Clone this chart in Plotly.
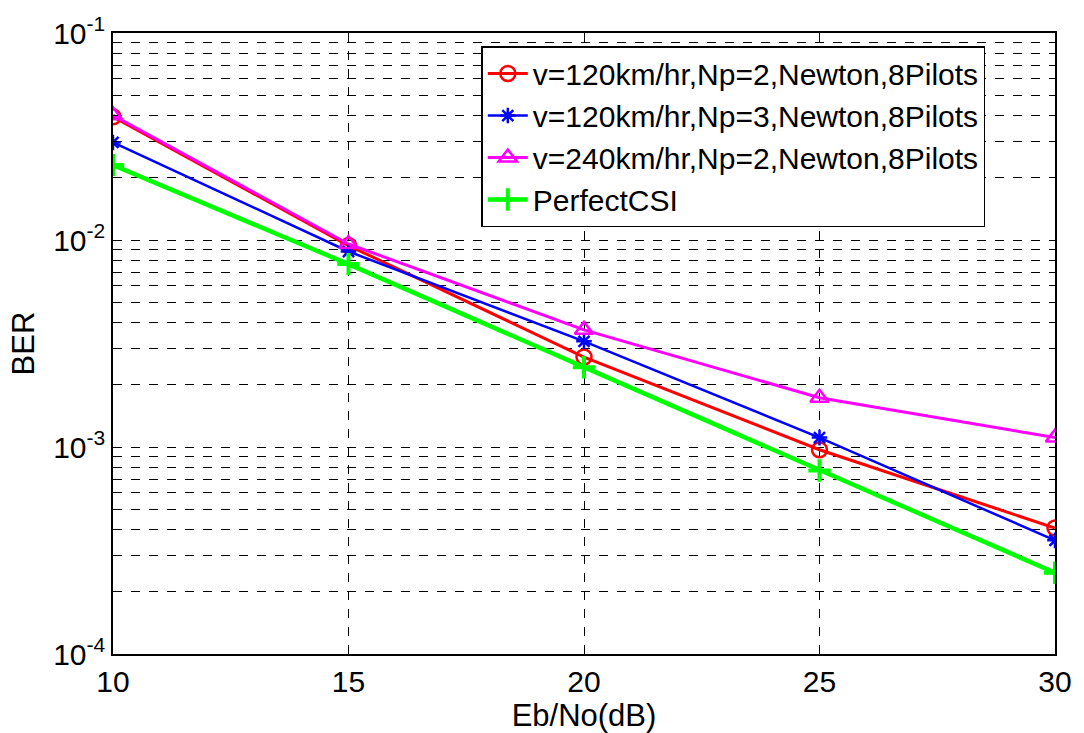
import plotly.graph_objects as go

snr = [10, 15, 20, 25, 30]
ber_v120_np2 = [0.0394, 0.0094, 0.00272, 0.00097, 0.000406]
ber_v120_np3 = [0.0296, 0.0088, 0.00324, 0.00111, 0.000354]
ber_v240_np2 = [0.0400, 0.00957, 0.00368, 0.00173, 0.00111]
ber_perfect = [0.0230, 0.00765, 0.00243, 0.00077, 0.000247]

names = ["v=120km/hr,Np=2,Newton,8Pilots",
         "v=120km/hr,Np=3,Newton,8Pilots",
         "v=240km/hr,Np=2,Newton,8Pilots",
         "PerfectCSI"]

x_ticks = [10, 15, 20, 25, 30]
decades = [-4, -3, -2, -1]

fig = go.Figure()
fig.add_trace(go.Scatter(x=snr, y=ber_v120_np2, name=names[0], mode="lines+markers",
                         line=dict(color="#ff0000", width=3),
                         marker=dict(symbol="circle-open", size=15, color="#ff0000", line=dict(width=2.5))))
fig.add_trace(go.Scatter(x=snr, y=ber_v120_np3, name=names[1], mode="lines+markers",
                         line=dict(color="#0000ff", width=2.5),
                         marker=dict(symbol="asterisk-open", size=13, color="#0000ff", line=dict(width=2.5))))
fig.add_trace(go.Scatter(x=snr, y=ber_v240_np2, name=names[2], mode="lines+markers",
                         line=dict(color="#ff00ff", width=3),
                         marker=dict(symbol="triangle-up-open", size=16, color="#ff00ff", line=dict(width=2.5))))
fig.add_trace(go.Scatter(x=snr, y=ber_perfect, name=names[3], mode="lines+markers",
                         line=dict(color="#00ff00", width=4.5),
                         marker=dict(symbol="cross-thin-open", size=16, color="#00ff00", line=dict(width=4))))

tickvals = []
ticktext = []
for d in decades:
    for m in range(1, 10):
        if d == -1 and m > 1:
            break
        tickvals.append(m * 10 ** d)
        ticktext.append(f"10<sup>{d}</sup>" if m == 1 else " ")

fig.update_layout(
    width=1084, height=733,
    margin=dict(l=113, r=25, t=32, b=79),
    paper_bgcolor="white", plot_bgcolor="white",
    font=dict(family="Liberation Sans, Arial, sans-serif", color="black"),
    showlegend=True,
    legend=dict(x=0.391, y=0.979, xanchor="left", yanchor="top",
                bgcolor="white", bordercolor="black", borderwidth=1.5,
                font=dict(size=30), tracegroupgap=0, itemwidth=40,
                entrywidth=545, entrywidthmode="pixels"),
    xaxis=dict(range=[10, 30], tickvals=x_ticks, ticktext=[str(v) for v in x_ticks],
               showgrid=True, gridcolor="black", griddash="dash", gridwidth=1,
               showline=True, linecolor="black", linewidth=1.5, mirror="ticks",
               ticks="inside", ticklen=6, tickcolor="black",
               tickfont=dict(size=30), zeroline=False,
               title=dict(text="Eb/No(dB)", font=dict(size=31), standoff=0)),
    yaxis=dict(type="log", range=[-4, -1], tickvals=tickvals, ticktext=ticktext,
               showgrid=True, gridcolor="black", griddash="dash", gridwidth=1,
               showline=True, linecolor="black", linewidth=1.5, mirror="ticks",
               ticks="inside", ticklen=5, tickcolor="black",
               tickfont=dict(size=30), zeroline=False,
               title=dict(text="BER", font=dict(size=31), standoff=9)),
)

fig.write_html("out.html")
